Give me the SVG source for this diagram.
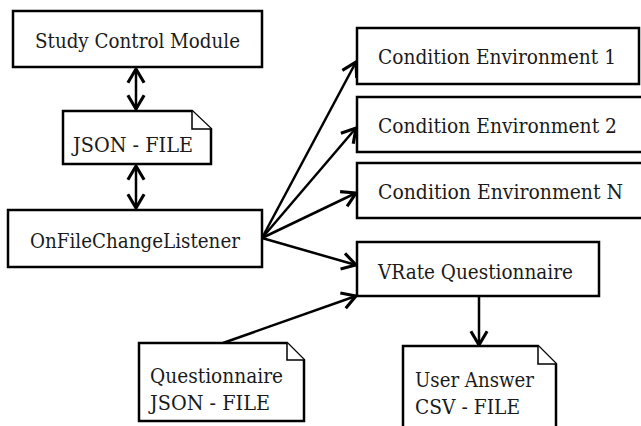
<svg xmlns="http://www.w3.org/2000/svg" width="641" height="426" viewBox="0 0 641 426">
<style>
.box{fill:#fff;stroke:#000;stroke-width:2.5}
.fold{fill:#fff;stroke:#000;stroke-width:1.5;stroke-linejoin:miter}
.t{font-family:"DejaVu Serif","Liberation Serif",serif;font-size:20px;fill:#1a1a1a}
.c{fill:none;stroke:#000;stroke-width:2.5}
</style>
<defs>
<marker id="ah" markerUnits="userSpaceOnUse" markerWidth="20" markerHeight="20" viewBox="-12 -8 14 16" refX="0" refY="0" orient="auto-start-reverse">
<path d="M-11,-6.5 L0,0 L-11,6.5" fill="none" stroke="#000" stroke-width="2.5"/>
</marker>
</defs>
<rect width="641" height="426" fill="#fff"/>
<g id="connectors">
<line class="c" x1="136" y1="69" x2="136" y2="109" marker-start="url(#ah)" marker-end="url(#ah)"/>
<line class="c" x1="136" y1="166" x2="136" y2="208" marker-start="url(#ah)" marker-end="url(#ah)"/>
<line class="c" x1="262" y1="238" x2="356" y2="62" marker-end="url(#ah)"/>
<line class="c" x1="262" y1="238" x2="356" y2="128" marker-end="url(#ah)"/>
<line class="c" x1="262" y1="238" x2="356" y2="193" marker-end="url(#ah)"/>
<line class="c" x1="262" y1="238" x2="356" y2="265" marker-end="url(#ah)"/>
<line class="c" x1="223" y1="343" x2="356" y2="296" marker-end="url(#ah)"/>
<line class="c" x1="479" y1="297" x2="479" y2="345" marker-end="url(#ah)"/>
</g>
<g id="study-control-module">
<rect class="box" x="13" y="11" width="249" height="56"/>
<text class="t" x="35" y="48" textLength="205" lengthAdjust="spacingAndGlyphs">Study Control Module</text>
</g>
<g id="json-file">
<path class="box" d="M63,111 H192 L211,129 V164 H63 Z"/>
<path class="fold" d="M192,111 V129 H211"/>
<text class="t" x="73" y="152" textLength="120" lengthAdjust="spacingAndGlyphs">JSON - FILE</text>
</g>
<g id="on-file-change-listener">
<rect class="box" x="8" y="210" width="254" height="57"/>
<text class="t" x="30" y="248" textLength="210" lengthAdjust="spacingAndGlyphs">OnFileChangeListener</text>
</g>
<g id="condition-environment-1">
<rect class="box" x="357" y="28" width="282" height="56"/>
<text class="t" x="378" y="64" textLength="238" lengthAdjust="spacingAndGlyphs">Condition Environment 1</text>
</g>
<g id="condition-environment-2">
<rect class="box" x="357" y="97" width="290" height="55"/>
<text class="t" x="378" y="133" textLength="239" lengthAdjust="spacingAndGlyphs">Condition Environment 2</text>
</g>
<g id="condition-environment-n">
<rect class="box" x="357" y="163" width="290" height="55"/>
<text class="t" x="378" y="199" textLength="245" lengthAdjust="spacingAndGlyphs">Condition Environment N</text>
</g>
<g id="vrate-questionnaire">
<rect class="box" x="357" y="242" width="242" height="54"/>
<text class="t" x="378" y="279" textLength="195" lengthAdjust="spacingAndGlyphs">VRate Questionnaire</text>
</g>
<g id="questionnaire-json-file">
<path class="box" d="M139,343 H287 L304,360 V421 H139 Z"/>
<path class="fold" d="M287,343 V360 H304"/>
<text class="t" x="150" y="383" textLength="133" lengthAdjust="spacingAndGlyphs">Questionnaire</text>
<text class="t" x="150" y="410" textLength="120" lengthAdjust="spacingAndGlyphs">JSON - FILE</text>
</g>
<g id="user-answer-csv-file">
<path class="box" d="M403,346 H538 L556,364 V432 H403 Z"/>
<path class="fold" d="M538,346 V364 H556"/>
<text class="t" x="415" y="387" textLength="119" lengthAdjust="spacingAndGlyphs">User Answer</text>
<text class="t" x="415" y="414" textLength="105" lengthAdjust="spacingAndGlyphs">CSV - FILE</text>
</g>
</svg>
